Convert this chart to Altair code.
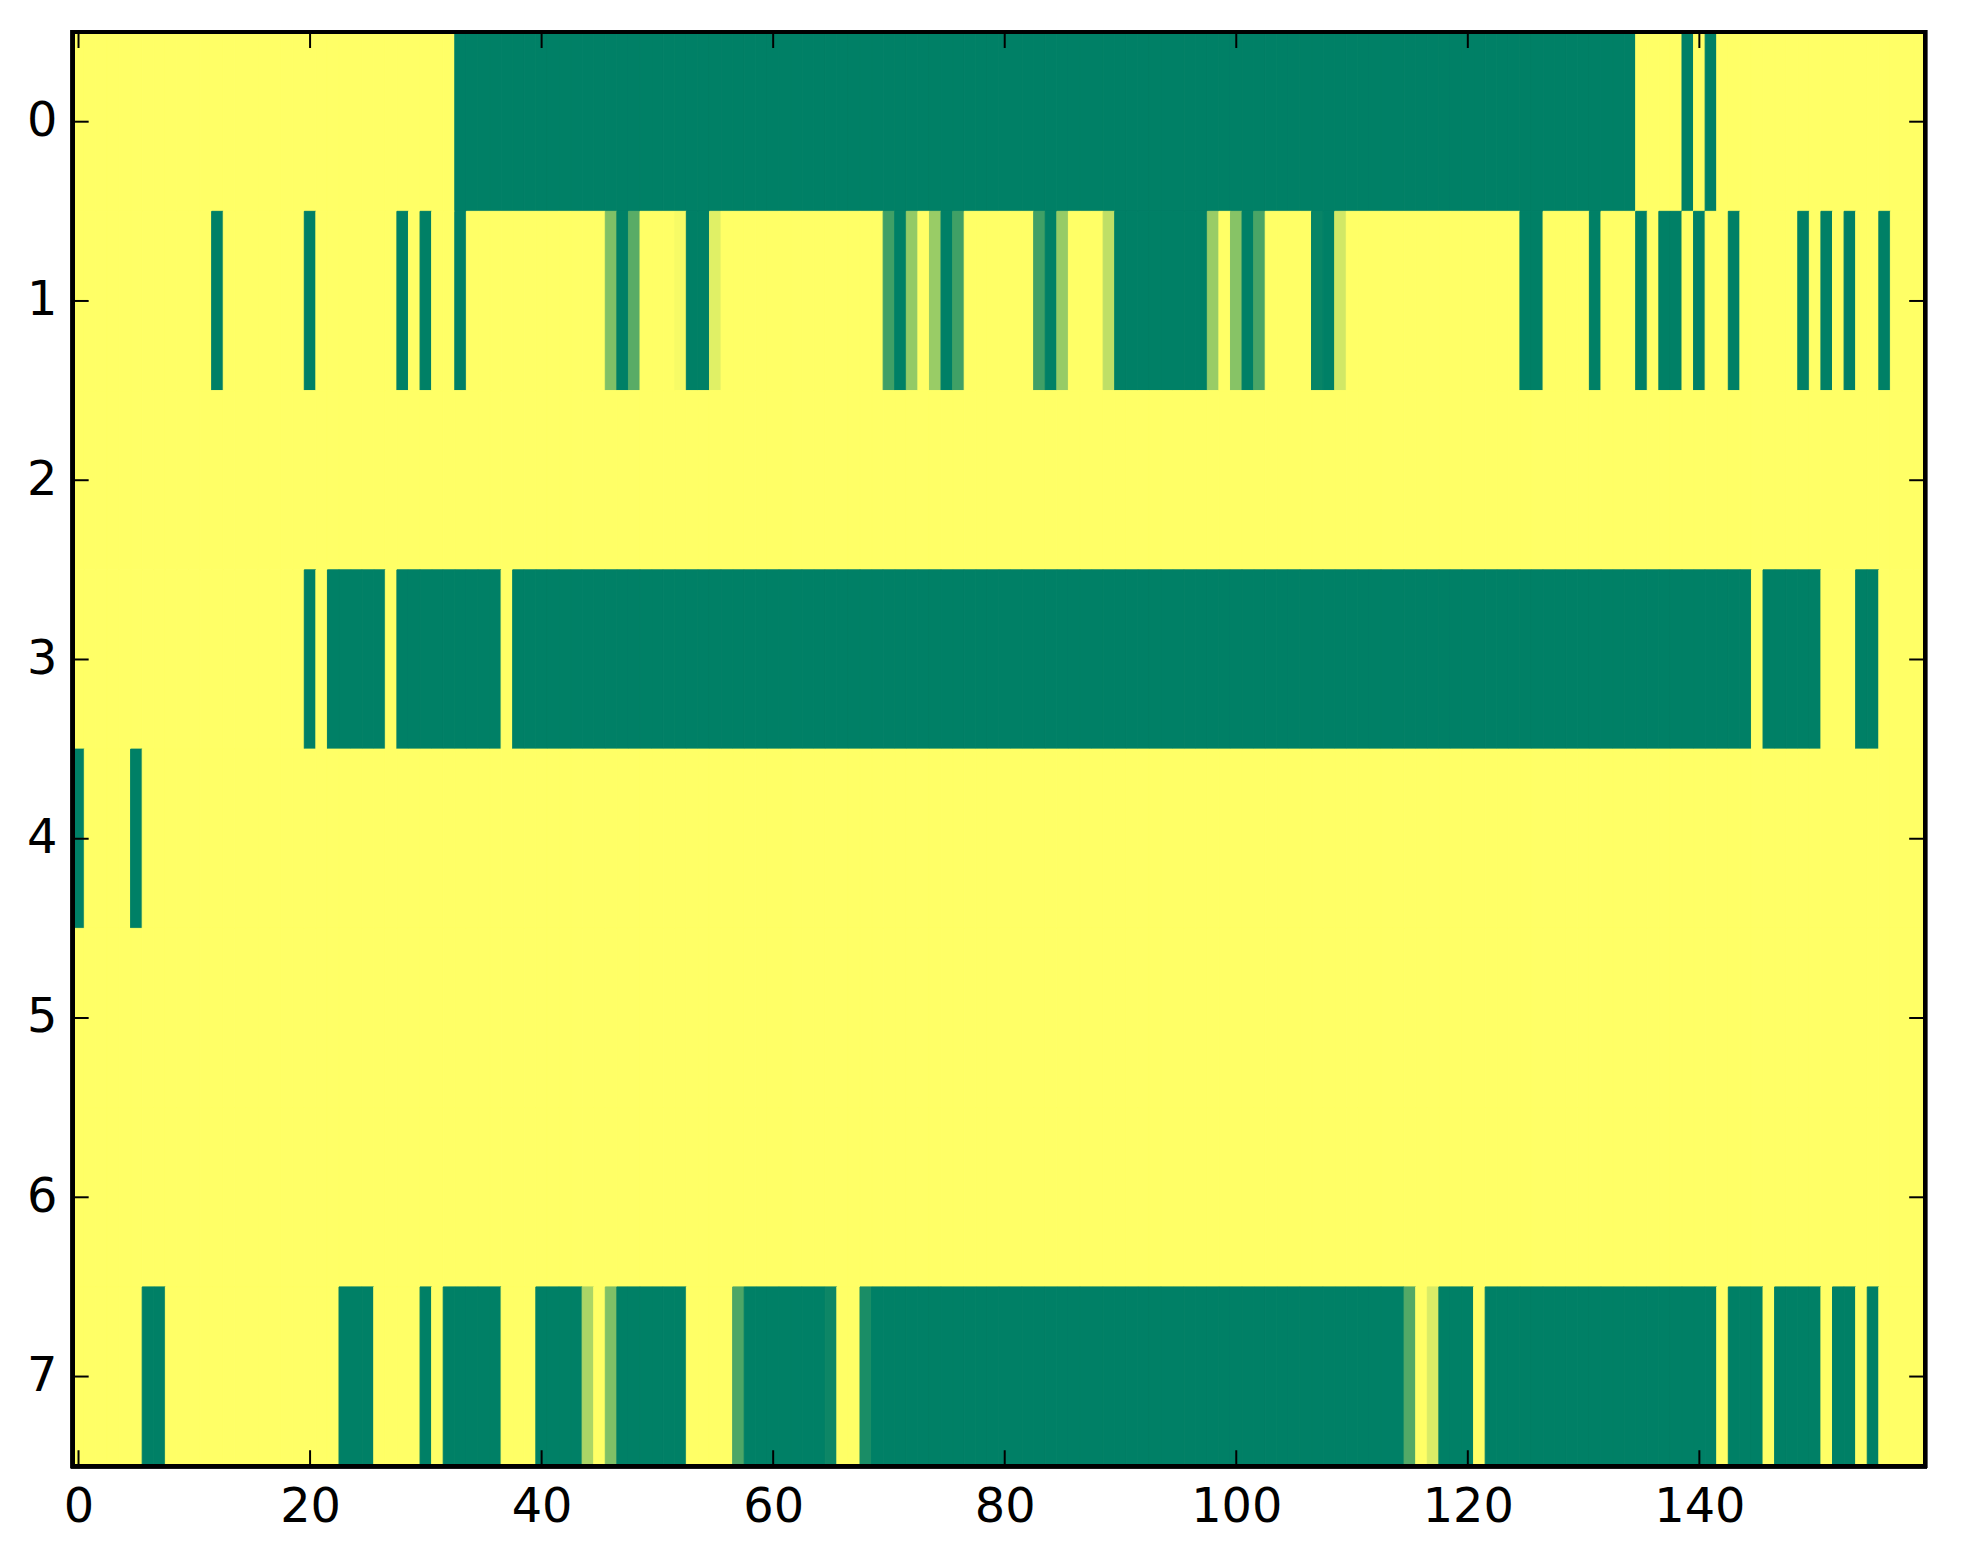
import altair as alt
import pandas as pd

# Tick label values
x_ticks = [0, 20, 40, 60, 80, 100, 120, 140]
y_ticks = [0, 1, 2, 3, 4, 5, 6, 7]

# Cell values, one list of 160 columns per row
row0 = [0,0,0,0,0,0,0,0,0,0,0,0,0,0,0,0,0,0,0,0,
        0,0,0,0,0,0,0,0,0,0,0,0,0,1,1,1,1,1,1,1,
        1,1,1,1,1,1,1,1,1,1,1,1,1,1,1,1,1,1,1,1,
        1,1,1,1,1,1,1,1,1,1,1,1,1,1,1,1,1,1,1,1,
        1,1,1,1,1,1,1,1,1,1,1,1,1,1,1,1,1,1,1,1,
        1,1,1,1,1,1,1,1,1,1,1,1,1,1,1,1,1,1,1,1,
        1,1,1,1,1,1,1,1,1,1,1,1,1,1,1,0,0,0,0,1,
        0,1,0,0,0,0,0,0,0,0,0,0,0,0,0,0,0,0,0,0]

row1 = [0,0,0,0,0,0,0,0,0,0,0,0,1,0,0,0,0,0,0,0,
        1,0,0,0,0,0,0,0,1,0,1,0,0,1,0,0,0,0,0,0,
        0,0,0,0,0,0,0.5,1,0.65,0,0,0,0.03,1,1,0.12,0,0,0,0,
        0,0,0,0,0,0,0,0,0,0,0.75,1,0.42,0,0.4,1,0.75,0,0,0,
        0,0,0,0.75,1,0.41,0,0,0,0.25,1,1,1,1,1,1,1,1,0.4,0,
        0.47,1,0.71,0,0,0,0,0.97,1,0.18,0,0,0,0,0,0,0,0,0,0,
        0,0,0,0,0,1,1,0,0,0,0,1,0,0,0,1,0,1,1,0,
        1,0,0,1,0,0,0,0,0,1,0,1,0,1,0,0,1,0,0,0]

row2 = [0,0,0,0,0,0,0,0,0,0,0,0,0,0,0,0,0,0,0,0,
        0,0,0,0,0,0,0,0,0,0,0,0,0,0,0,0,0,0,0,0,
        0,0,0,0,0,0,0,0,0,0,0,0,0,0,0,0,0,0,0,0,
        0,0,0,0,0,0,0,0,0,0,0,0,0,0,0,0,0,0,0,0,
        0,0,0,0,0,0,0,0,0,0,0,0,0,0,0,0,0,0,0,0,
        0,0,0,0,0,0,0,0,0,0,0,0,0,0,0,0,0,0,0,0,
        0,0,0,0,0,0,0,0,0,0,0,0,0,0,0,0,0,0,0,0,
        0,0,0,0,0,0,0,0,0,0,0,0,0,0,0,0,0,0,0,0]

row3 = [0,0,0,0,0,0,0,0,0,0,0,0,0,0,0,0,0,0,0,0,
        1,0,1,1,1,1,1,0,1,1,1,1,1,1,1,1,1,0,1,1,
        1,1,1,1,1,1,1,1,1,1,1,1,1,1,1,1,1,1,1,1,
        1,1,1,1,1,1,1,1,1,1,1,1,1,1,1,1,1,1,1,1,
        1,1,1,1,1,1,1,1,1,1,1,1,1,1,1,1,1,1,1,1,
        1,1,1,1,1,1,1,1,1,1,1,1,1,1,1,1,1,1,1,1,
        1,1,1,1,1,1,1,1,1,1,1,1,1,1,1,1,1,1,1,1,
        1,1,1,1,1,0,1,1,1,1,1,0,0,0,1,1,0,0,0,0]

row4 = [1,0,0,0,0,1,0,0,0,0,0,0,0,0,0,0,0,0,0,0,
        0,0,0,0,0,0,0,0,0,0,0,0,0,0,0,0,0,0,0,0,
        0,0,0,0,0,0,0,0,0,0,0,0,0,0,0,0,0,0,0,0,
        0,0,0,0,0,0,0,0,0,0,0,0,0,0,0,0,0,0,0,0,
        0,0,0,0,0,0,0,0,0,0,0,0,0,0,0,0,0,0,0,0,
        0,0,0,0,0,0,0,0,0,0,0,0,0,0,0,0,0,0,0,0,
        0,0,0,0,0,0,0,0,0,0,0,0,0,0,0,0,0,0,0,0,
        0,0,0,0,0,0,0,0,0,0,0,0,0,0,0,0,0,0,0,0]

row5 = [0,0,0,0,0,0,0,0,0,0,0,0,0,0,0,0,0,0,0,0,
        0,0,0,0,0,0,0,0,0,0,0,0,0,0,0,0,0,0,0,0,
        0,0,0,0,0,0,0,0,0,0,0,0,0,0,0,0,0,0,0,0,
        0,0,0,0,0,0,0,0,0,0,0,0,0,0,0,0,0,0,0,0,
        0,0,0,0,0,0,0,0,0,0,0,0,0,0,0,0,0,0,0,0,
        0,0,0,0,0,0,0,0,0,0,0,0,0,0,0,0,0,0,0,0,
        0,0,0,0,0,0,0,0,0,0,0,0,0,0,0,0,0,0,0,0,
        0,0,0,0,0,0,0,0,0,0,0,0,0,0,0,0,0,0,0,0]

row6 = [0,0,0,0,0,0,0,0,0,0,0,0,0,0,0,0,0,0,0,0,
        0,0,0,0,0,0,0,0,0,0,0,0,0,0,0,0,0,0,0,0,
        0,0,0,0,0,0,0,0,0,0,0,0,0,0,0,0,0,0,0,0,
        0,0,0,0,0,0,0,0,0,0,0,0,0,0,0,0,0,0,0,0,
        0,0,0,0,0,0,0,0,0,0,0,0,0,0,0,0,0,0,0,0,
        0,0,0,0,0,0,0,0,0,0,0,0,0,0,0,0,0,0,0,0,
        0,0,0,0,0,0,0,0,0,0,0,0,0,0,0,0,0,0,0,0,
        0,0,0,0,0,0,0,0,0,0,0,0,0,0,0,0,0,0,0,0]

row7 = [0,0,0,0,0,0,1,1,0,0,0,0,0,0,0,0,0,0,0,0,
        0,0,0,1,1,1,0,0,0,0,1,0,1,1,1,1,1,0,0,0,
        1,1,1,1,0.33,0,0.5,1,1,1,1,1,1,0,0,0,0,0.7,1,1,
        1,1,1,1,1,0.95,0,0,0.9,1,1,1,1,1,1,1,1,1,1,1,
        1,1,1,1,1,1,1,1,1,1,1,1,1,1,1,1,1,1,1,1,
        1,1,1,1,1,1,1,1,1,1,1,1,1,1,1,0.68,0,0.15,1,1,
        1,0,1,1,1,1,1,1,1,1,1,1,1,1,1,1,1,1,1,1,
        1,1,0,1,1,1,0,1,1,1,1,0,1,1,0,1,0,0,0,0]

rows = [row0, row1, row2, row3, row4, row5, row6, row7]

records = []
for r, vals in enumerate(rows):
    for c, v in enumerate(vals):
        records.append({"row": r, "col": c, "v": v})
df = pd.DataFrame(records)

W, H = 1860, 1440
TICK = 16

color_scale = alt.Scale(domain=[0, 1], range=["#ffff66", "#008066"], interpolate="rgb")
x_scale = alt.Scale(domain=[-0.5, 159.5], nice=False, zero=False)
y_scale = alt.Scale(domain=[-0.5, 7.5], nice=False, zero=False, reverse=True)

axis_common = dict(
    title=None, grid=False, domain=False, ticks=False,
    labelFont="DejaVu Sans", labelFontSize=48, labelColor="black",
    labelFlush=False, labelOverlap=False,
)

heat = alt.Chart(df).transform_calculate(
    x0="datum.col - 0.5", x1="datum.col + 0.5",
    y0="datum.row - 0.5", y1="datum.row + 0.5",
).mark_rect(strokeWidth=1).encode(
    x=alt.X("x0:Q", scale=x_scale, axis=alt.Axis(values=x_ticks, labelPadding=18, **axis_common)),
    x2="x1:Q",
    y=alt.Y("y0:Q", scale=y_scale, axis=alt.Axis(values=y_ticks, labelPadding=16, **axis_common)),
    y2="y1:Q",
    color=alt.Color("v:Q", scale=color_scale, legend=None),
    stroke=alt.Stroke("v:Q", scale=color_scale, legend=None),
)

xt = pd.DataFrame({"t": x_ticks})
yt = pd.DataFrame({"t": y_ticks})

tick_style = dict(color="black", strokeWidth=2)

bottom_ticks = alt.Chart(xt).mark_rule(**tick_style).encode(
    x=alt.X("t:Q", scale=x_scale, axis=None),
    y=alt.value(H - TICK), y2=alt.value(H),
)
top_ticks = alt.Chart(xt).mark_rule(**tick_style).encode(
    x=alt.X("t:Q", scale=x_scale, axis=None),
    y=alt.value(0), y2=alt.value(TICK),
)
left_ticks = alt.Chart(yt).mark_rule(**tick_style).encode(
    y=alt.Y("t:Q", scale=y_scale, axis=None),
    x=alt.value(0), x2=alt.value(TICK),
)
right_ticks = alt.Chart(yt).mark_rule(**tick_style).encode(
    y=alt.Y("t:Q", scale=y_scale, axis=None),
    x=alt.value(W - TICK), x2=alt.value(W),
)

frame = alt.Chart(xt).mark_rect(fill=None, stroke="black", strokeWidth=4).encode(
    x=alt.value(0), x2=alt.value(W), y=alt.value(0), y2=alt.value(H),
)

chart = alt.layer(heat, bottom_ticks, top_ticks, left_ticks, right_ticks, frame).resolve_axis(
    x="independent", y="independent",
).properties(
    width=W, height=H,
    autosize=alt.AutoSizeParams(type="none"),
    padding={"left": 65, "top": 21, "right": 30, "bottom": 80},
    background="white",
).configure_view(
    strokeWidth=0,
)

chart.save("out.html", embed_options={"renderer": "svg", "actions": False})
